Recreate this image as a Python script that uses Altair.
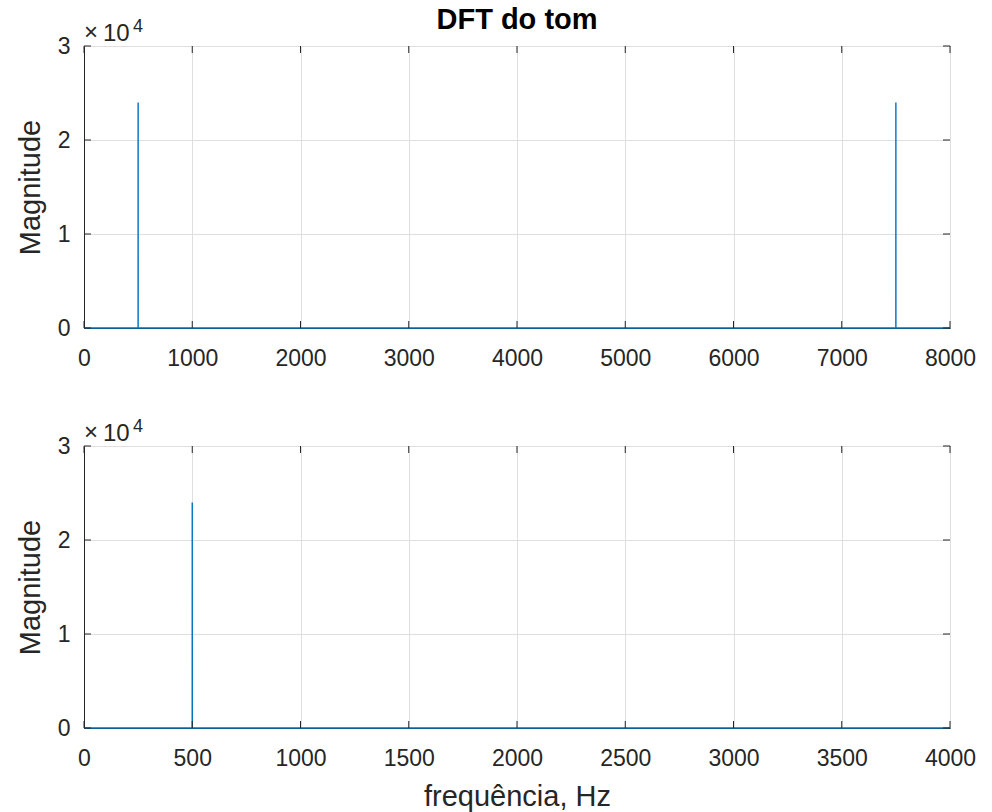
import altair as alt
import pandas as pd

# ---- data ----
top_freq = [0, 499.83, 500, 500.17, 7499.83, 7500, 7500.17, 7999.83]
top_mag = [0, 0, 24000, 0, 0, 24000, 0, 0]
bot_freq = [0, 499.83, 500, 500.17, 3999.83]
bot_mag = [0, 0, 24000, 0, 0]
top_xticks = [0, 1000, 2000, 3000, 4000, 5000, 6000, 7000, 8000]
bot_xticks = [0, 500, 1000, 1500, 2000, 2500, 3000, 3500, 4000]
y_ticks = [0, 10000, 20000, 30000]
title_text = "DFT do tom"
y_title = "Magnitude"
x_title = "frequência, Hz"
mult_sign = "×"
mult_base = "10"
mult_exp = "4"

W, H = 866, 282
BLUE = "#0072BD"
DARK = "#262626"
FONT = "Liberation Sans"
TL = 7


def txt(s, size, dx, dy):
    return alt.Chart(pd.DataFrame({"t": [s]})).mark_text(
        align="left", baseline="alphabetic", fontSize=size, font=FONT, color=DARK
    ).encode(text="t:N", x=alt.value(dx), y=alt.value(dy))


def panel(freq, mag, xticks, xmax, xtitle, title=None):
    df = pd.DataFrame({"f": freq, "m": mag})
    xs = alt.Scale(domain=[0, xmax], nice=False, zero=False)
    ys = alt.Scale(domain=[0, 30000], nice=False)
    xaxis = alt.Axis(values=xticks, title=xtitle, format="d", labelPadding=19,
                     titlePadding=12, labelFlush=False)
    yaxis = alt.Axis(values=y_ticks, title=y_title, labelExpr="datum.value / 10000",
                     labelPadding=14, titlePadding=12)
    line = alt.Chart(df).mark_line(color=BLUE, strokeWidth=1.4).encode(
        x=alt.X("f:Q", scale=xs, axis=xaxis),
        y=alt.Y("m:Q", scale=ys, axis=yaxis),
    )
    xt = pd.DataFrame({"f": xticks})
    yt = pd.DataFrame({"m": y_ticks})
    xb = alt.Chart(xt).mark_rule(color=DARK, strokeWidth=1).encode(
        x=alt.X("f:Q", scale=xs, axis=xaxis), y=alt.value(H), y2=alt.value(H - TL))
    xtp = alt.Chart(xt).mark_rule(color=DARK, strokeWidth=1).encode(
        x=alt.X("f:Q", scale=xs, axis=xaxis), y=alt.value(0), y2=alt.value(TL))
    yl = alt.Chart(yt).mark_rule(color=DARK, strokeWidth=1).encode(
        y=alt.Y("m:Q", scale=ys, axis=yaxis), x=alt.value(0), x2=alt.value(TL))
    yr = alt.Chart(yt).mark_rule(color=DARK, strokeWidth=1).encode(
        y=alt.Y("m:Q", scale=ys, axis=yaxis), x=alt.value(W - TL), x2=alt.value(W))
    ms = txt(mult_sign, 24, 0, -6)
    mb = txt(mult_base, 24, 19, -5)
    me = txt(mult_exp, 18, 49, -14)
    layers = alt.layer(line, xb, xtp, yl, yr, ms, mb, me)
    props = dict(width=W, height=H)
    if title is not None:
        props["title"] = alt.Title(title, offset=-17)
    return layers.properties(**props)


top = panel(top_freq, top_mag, top_xticks, 8000, None, title_text)
bot = panel(bot_freq, bot_mag, bot_xticks, 4000, x_title)

chart = alt.vconcat(top, bot, spacing=46).properties(
    padding={"left": 15, "top": 5, "right": 10, "bottom": 0},
    background="white",
).configure_axis(
    labelFont=FONT, titleFont=FONT, labelColor=DARK, titleColor=DARK,
    labelFontSize=23, titleFontSize=29, titleFontWeight="normal",
    domainColor=DARK, gridColor="#dfdfdf", gridOpacity=1, ticks=False, tickSize=0,
    grid=True,
).configure_view(stroke=DARK, strokeWidth=1).configure_title(
    font=FONT, fontSize=29, fontWeight="bold", color="#000000", anchor="middle"
)

chart.save("out.html", embed_options={"renderer": "svg", "actions": False})
